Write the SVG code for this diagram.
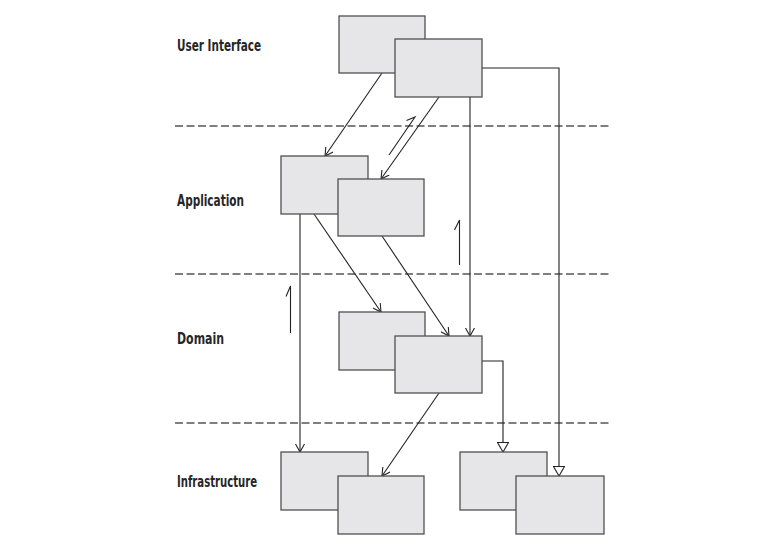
<svg xmlns="http://www.w3.org/2000/svg" width="780" height="551" viewBox="0 0 780 551">
<style>
.bg{fill:#ffffff}
.box{fill:#e6e6e8;stroke:#505050;stroke-width:1.3}
.layer{stroke:#555555;stroke-width:1.3;stroke-dasharray:8 3.5;fill:none}
.conn{stroke:#222222;stroke-width:1.1;fill:none}
.lbl{font-family:"Liberation Sans Narrow","DejaVu Sans Condensed","Liberation Sans",Arial,sans-serif;font-weight:bold;font-size:16px;fill:#262626}
</style>
<defs>
<marker id="vee" viewBox="0 0 8 10" refX="8" refY="5" markerWidth="8" markerHeight="10" markerUnits="userSpaceOnUse" orient="auto">
<path d="M0,0.5 L8,5 L0,9.5" fill="none" stroke="#222222" stroke-width="1.1"/>
</marker>
<marker id="tri" viewBox="0 0 10 12" refX="10" refY="6" markerWidth="10" markerHeight="12" markerUnits="userSpaceOnUse" orient="auto">
<path d="M0.5,0.5 L10,6 L0.5,11.5 Z" fill="#ffffff" stroke="#222222" stroke-width="1.1"/>
</marker>
</defs>
<rect class="bg" x="0" y="0" width="780" height="551"/>
<g id="layers">
<line class="layer" x1="175" y1="126" x2="612" y2="126"/>
<line class="layer" x1="175" y1="274" x2="612" y2="274"/>
<line class="layer" x1="175" y1="423" x2="612" y2="423"/>
</g>
<g id="labels">
<text class="lbl" x="177" y="50.5" textLength="84" lengthAdjust="spacingAndGlyphs">User Interface</text>
<text class="lbl" x="177" y="206" textLength="67" lengthAdjust="spacingAndGlyphs">Application</text>
<text class="lbl" x="177" y="343.5" textLength="47" lengthAdjust="spacingAndGlyphs">Domain</text>
<text class="lbl" x="177" y="486.5" textLength="80" lengthAdjust="spacingAndGlyphs">Infrastructure</text>
</g>
<g id="connectors">
<line class="conn" x1="382" y1="73" x2="325" y2="156" marker-end="url(#vee)"/>
<line class="conn" x1="439" y1="97" x2="381" y2="179" marker-end="url(#vee)"/>
<line class="conn" x1="470" y1="97" x2="470" y2="336" marker-end="url(#vee)"/>
<polyline class="conn" points="482,68 559,68 559,476" marker-end="url(#tri)"/>
<line class="conn" x1="300" y1="214" x2="300" y2="452" marker-end="url(#vee)"/>
<line class="conn" x1="314" y1="214" x2="381" y2="312" marker-end="url(#vee)"/>
<line class="conn" x1="382" y1="236" x2="449" y2="336" marker-end="url(#vee)"/>
<polyline class="conn" points="482,361 503,361 503,452" marker-end="url(#tri)"/>
<line class="conn" x1="439" y1="393" x2="382" y2="476" marker-end="url(#vee)"/>
<path class="conn" d="M389,155 L415,117 L406.5,120.5"/>
<path class="conn" d="M459.5,265 L459.5,220 L454.5,230"/>
<path class="conn" d="M290.5,333 L290.5,286 L286,296.5"/>
</g>
<g id="ui-1"><rect class="box" x="339" y="16" width="86" height="57"/></g>
<g id="ui-2"><rect class="box" x="395" y="39" width="87" height="58"/></g>
<g id="app-1"><rect class="box" x="281" y="156" width="87" height="58"/></g>
<g id="app-2"><rect class="box" x="338" y="179" width="86" height="57"/></g>
<g id="domain-1"><rect class="box" x="339" y="312" width="86" height="58"/></g>
<g id="domain-2"><rect class="box" x="395" y="336" width="87" height="57"/></g>
<g id="infra-1"><rect class="box" x="281" y="452" width="87" height="58"/></g>
<g id="infra-2"><rect class="box" x="338" y="476" width="86" height="58"/></g>
<g id="infra-3"><rect class="box" x="460" y="452" width="87" height="58"/></g>
<g id="infra-4"><rect class="box" x="516" y="476" width="88" height="58"/></g>
</svg>
